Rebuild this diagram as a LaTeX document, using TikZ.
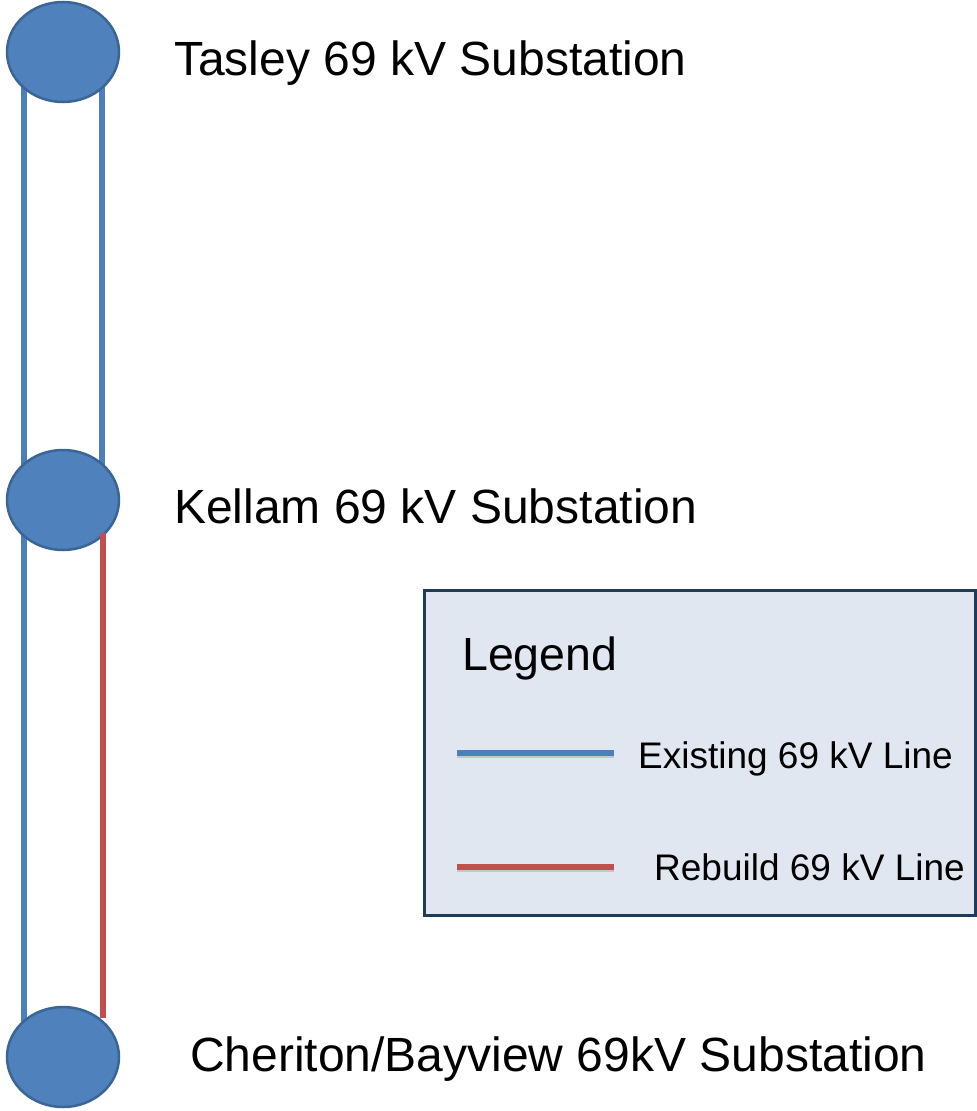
\documentclass[tikz,border=0pt]{standalone}
\usepackage{fontspec}
\setmainfont{Liberation Sans}
\usetikzlibrary{shapes.geometric,backgrounds}
\definecolor{subfill}{HTML}{4F81BD}
\definecolor{subedge}{HTML}{3A6595}
\definecolor{lineblue}{HTML}{4D7FBC}
\definecolor{linered}{HTML}{C0504D}
\definecolor{legfill}{HTML}{E1E7F1}
\definecolor{legedge}{HTML}{1F3A5A}
\tikzset{
  substn/.style={ellipse, draw=subedge, fill=subfill, line width=2.5pt, minimum width=112pt, minimum height=100pt, inner sep=0pt},
  sublabel/.style={anchor=base west, inner sep=0pt, font=\fontsize{48}{58}\selectfont},
  existline/.style={draw=lineblue, line width=6.5pt},
  rebuildline/.style={draw=linered, line width=6.5pt},
  legendbox/.style={draw=legedge, fill=legfill, line width=3pt, minimum width=551pt, minimum height=325pt, inner sep=0pt},
  legtext/.style={anchor=base west, inner sep=0pt, font=\fontsize{37}{44}\selectfont},
}
\begin{document}
\begin{tikzpicture}[x=1pt,y=-1pt]
\useasboundingbox (0,0) rectangle (977,1111);
% substations
\node[substn] (t) at (63,52) {};
\node[substn] (k) at (63,500) {};
\node[substn] (c) at (63,1057) {};
% lines behind the circles
\begin{scope}[on background layer]
\draw[existline] ([xshift=-39pt]t.center) -- ([xshift=-39pt]k.center);
\draw[existline] ([xshift=39pt]t.center) -- ([xshift=39pt]k.center);
\draw[existline] ([xshift=-39pt]k.center) -- ([xshift=-39pt]c.center);
\end{scope}
\draw[rebuildline] ([xshift=40pt,yshift=-33pt]k.center) -- ([xshift=40pt,yshift=-12pt]c.north);
% labels
\node[sublabel] (tl) at (174,75) {Tasley 69 kV Substation};
\node[sublabel] (kl) at (174,523) {Kellam 69 kV Substation};
\node[sublabel] (cl) at (190,1071) {Cheriton/Bayview 69kV Substation};
% legend
\node[legendbox] (leg) at (699.5,752.5) {};
\node[anchor=base west, inner sep=0pt, font=\fontsize{46.5}{56}\selectfont] (legt) at (462,670) {Legend};
\coordinate (eb1) at (457,753);
\coordinate (eb2) at (614,753);
\coordinate (rb1) at (457,867);
\coordinate (rb2) at (614,867);
\draw[draw=black!35, line width=6pt, opacity=0.5] ([yshift=-2pt]eb1) -- ([yshift=-2pt]eb2);
\draw[existline, line width=6pt] (eb1) -- (eb2);
\draw[draw=black!35, line width=6pt, opacity=0.5] ([yshift=-2pt]rb1) -- ([yshift=-2pt]rb2);
\draw[rebuildline, line width=6pt] (rb1) -- (rb2);
\node[legtext] (et) at (638,768) {Existing 69 kV Line};
\node[legtext] (rt) at (654,880) {Rebuild 69 kV Line};
\end{tikzpicture}
\end{document}
